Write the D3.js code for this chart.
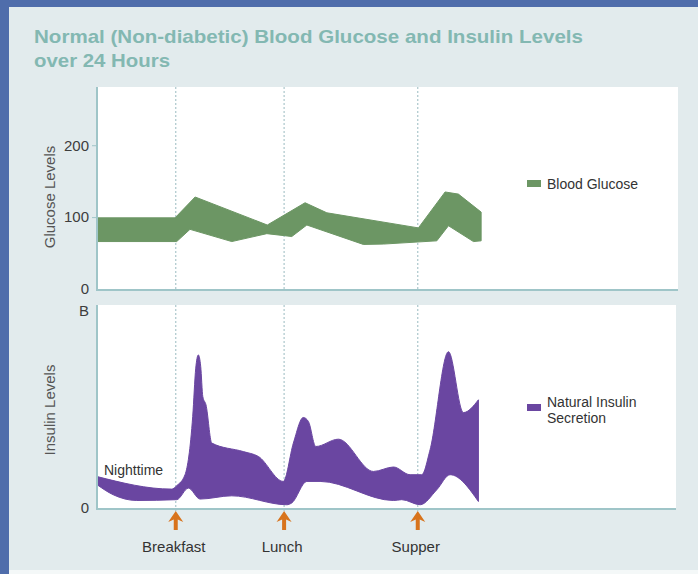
<!DOCTYPE html>
<html>
<head>
<meta charset="utf-8">
<script src="https://cdn.jsdelivr.net/npm/d3@7"></script>
<style>
  body { margin: 0; background: #4f6dab; }
  svg { display: block; font-family: "Liberation Sans", Arial, sans-serif; }
  .tick text { fill: #3d3d3d; font-size: 15px; }
  .axis path, .axis line { stroke: #9fc5c8; }
</style>
</head>
<body>
<div id="chart"></div>
<script>
// hours along the day (0 = left edge of data, 24 = right edge)
var glucoseUpper = [[0, 99], [4.88, 99], [6.13, 128], [10.64, 89], [13.0, 120], [14.36, 106], [20.08, 85], [21.75, 135], [22.58, 132], [24, 107]];
var glucoseLower = [[0, 66], [4.98, 66], [5.81, 83], [8.42, 66], [10.61, 77], [12.17, 73], [13.11, 89], [16.64, 62], [17.89, 62.5], [21.23, 67], [21.96, 88], [23.52, 66], [24, 67]];

var insulinUpper = [[0, 15.5], [4.67, 9.3], [4.98, 11], [5.5, 16.4], [5.98, 45.1], [6.17, 68.9], [6.33, 75.4], [6.48, 69.7], [6.61, 54.9], [6.81, 50.8], [7.17, 32],
  [9.14, 27.8], [10.08, 25.4], [11.64, 13.1], [12.27, 32], [12.89, 44.6], [13.21, 42.6], [13.67, 30.3], [15.08, 33.9], [17.27, 18], [18.52, 20.2],
  [19.56, 16.4], [20.29, 16.4], [20.81, 28.7], [21.96, 77], [22.89, 47], [23.83, 53.3]];
var insulinLower = [[0, 11.5], [1.02, 6.5], [2.48, 3.7], [4.98, 4.1], [5.71, 9.8], [6.44, 4.4], [8.42, 6], [11.86, 1.6], [12.17, 2.5], [13.11, 13.1],
  [13.94, 13.1], [18.52, 3.7], [19.04, 4.1], [20.19, 1.6], [21.23, 9], [22.06, 16.4], [23.83, 3.2]];

var meals = [{name: "Breakfast", hour: 4.92}, {name: "Lunch", hour: 11.69}, {name: "Supper", hour: 20.04}];
var glucoseTicks = [0, 100, 200];
var insulinTicks = [0, 97];
var insulinTickLabels = ["0", "B"];

var W = 698, H = 574;
var green = "#6c9664", purple = "#6a46a1";

var svg = d3.select("#chart").append("svg").attr("width", W).attr("height", H);

svg.append("rect").attr("width", W).attr("height", H).attr("fill", "#4f6dab");
svg.append("rect").attr("x", 9).attr("y", 7).attr("width", W - 9).attr("height", H - 7).attr("fill", "#f4f8f8");
svg.append("rect").attr("x", 9).attr("y", 7).attr("width", W - 9).attr("height", 563).attr("fill", "#e2ebed");

// title
var title = svg.append("text").attr("fill", "#83b8b2").attr("font-weight", "bold").attr("font-size", "19px");
title.append("tspan").attr("x", 34).attr("y", 43).attr("textLength", 549).attr("lengthAdjust", "spacingAndGlyphs")
  .text("Normal (Non-diabetic) Blood Glucose and Insulin Levels");
title.append("tspan").attr("x", 34).attr("y", 67).attr("textLength", 136).attr("lengthAdjust", "spacingAndGlyphs")
  .text("over 24 Hours");

var x = d3.scaleLinear().domain([0, 36.3]).range([97, 678]);
var yG = d3.scaleLinear().domain([0, 281]).range([289, 87]);
var yI = d3.scaleLinear().domain([0, 100]).range([508, 305]);

// plot backgrounds
svg.append("rect").attr("x", 97).attr("y", 87).attr("width", 581).attr("height", 202).attr("fill", "#fff");
svg.append("rect").attr("x", 97).attr("y", 305).attr("width", 579).attr("height", 203).attr("fill", "#fff");

// meal guide lines
meals.forEach(function(m) {
  [[87, 289], [305, 512]].forEach(function(r) {
    svg.append("line")
      .attr("x1", x(m.hour)).attr("x2", x(m.hour))
      .attr("y1", r[0]).attr("y2", r[1])
      .attr("stroke", "#aac6cb").attr("stroke-width", 1.2)
      .attr("stroke-dasharray", "2,2");
  });
});

// band = upper edge left->right, then lower edge right->left
function band(upper, lower, y, curve) {
  var line = d3.line().x(d => x(d[0])).y(d => y(d[1])).curve(curve);
  var top = line(upper);
  var bottom = line(lower.slice().reverse()).replace(/^M/, "L");
  return top + bottom + "Z";
}

svg.append("path").attr("d", band(glucoseUpper, glucoseLower, yG, d3.curveLinear)).attr("fill", green)
  .attr("stroke", green).attr("stroke-width", 1).attr("stroke-linejoin", "round");
svg.append("path").attr("d", band(insulinUpper, insulinLower, yI, d3.curveMonotoneX)).attr("fill", purple)
  .attr("stroke", purple).attr("stroke-width", 1).attr("stroke-linejoin", "round");

// axes
var gAxis = svg.append("g").attr("class", "axis").attr("transform", "translate(97,0)")
  .call(d3.axisLeft(yG).tickValues(glucoseTicks).tickSize(5).tickPadding(3));
gAxis.select(".domain").remove();
gAxis.selectAll(".tick line").filter(d => d === 0).remove();
svg.append("line").attr("x1", 97).attr("x2", 97).attr("y1", 87).attr("y2", 290).attr("stroke", "#9fc5c8").attr("stroke-width", 2);
svg.append("line").attr("x1", 96).attr("x2", 678).attr("y1", 290).attr("y2", 290).attr("stroke", "#9fc5c8").attr("stroke-width", 2);

var iAxis = svg.append("g").attr("class", "axis").attr("transform", "translate(97,0)")
  .call(d3.axisLeft(yI).tickValues(insulinTicks).tickSize(0).tickPadding(8)
    .tickFormat((d, i) => insulinTickLabels[i]));
iAxis.select(".domain").remove();
svg.append("line").attr("x1", 97).attr("x2", 97).attr("y1", 305).attr("y2", 509).attr("stroke", "#9fc5c8").attr("stroke-width", 2);
svg.append("line").attr("x1", 96).attr("x2", 676).attr("y1", 509).attr("y2", 509).attr("stroke", "#9fc5c8").attr("stroke-width", 2);

// axis titles
svg.append("text").attr("transform", "translate(55,197) rotate(-90)").attr("text-anchor", "middle")
  .attr("fill", "#555").attr("font-size", "15px").text("Glucose Levels");
svg.append("text").attr("transform", "translate(55,410) rotate(-90)").attr("text-anchor", "middle")
  .attr("fill", "#555").attr("font-size", "15px").text("Insulin Levels");

svg.append("text").attr("x", 104).attr("y", 475).attr("fill", "#333").attr("font-size", "14px").text("Nighttime");

// meal arrows and labels
var arrow = "M0,0 L7.5,11 L2,8.5 L2,19 L-2,19 L-2,8.5 L-7.5,11 Z";
meals.forEach(function(m) {
  svg.append("path").attr("d", arrow).attr("fill", "#d8731c")
    .attr("transform", "translate(" + x(m.hour) + ",511)");
  svg.append("text").attr("x", x(m.hour) - 2).attr("y", 552).attr("text-anchor", "middle")
    .attr("fill", "#333").attr("font-size", "15px").text(m.name);
});

// legends
svg.append("rect").attr("x", 527).attr("y", 180).attr("width", 14).attr("height", 7).attr("fill", green);
svg.append("text").attr("x", 547).attr("y", 189).attr("fill", "#333").attr("font-size", "14px").text("Blood Glucose");
svg.append("rect").attr("x", 527).attr("y", 404).attr("width", 14).attr("height", 7).attr("fill", purple);
var lt = svg.append("text").attr("fill", "#333").attr("font-size", "14px");
lt.append("tspan").attr("x", 547).attr("y", 407).text("Natural Insulin");
lt.append("tspan").attr("x", 547).attr("y", 423).text("Secretion");
</script>
</body>
</html>
